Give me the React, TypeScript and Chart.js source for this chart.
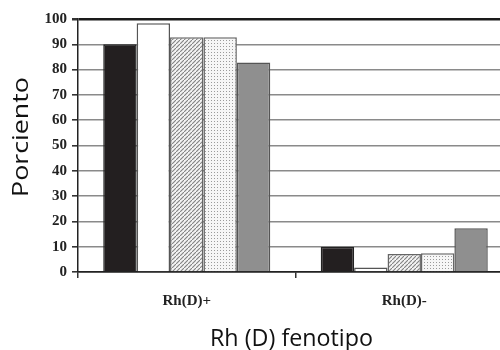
import React, { useEffect, useRef } from "react";
import { Chart, registerables } from "chart.js";

Chart.register(...registerables);

const categories = ["Rh(D)+", "Rh(D)-"];
const serie1 = [90, 10];
const serie2 = [98.3, 1.8];
const serie3 = [92.8, 7.1];
const serie4 = [92.8, 7.4];
const serie5 = [82.8, 17.3];
const seriesNames = ["Serie 1", "Serie 2", "Serie 3", "Serie 4", "Serie 5"];
const yTitle = "Porciento";
const xTitle = "Rh (D) fenotipo";

function makeHatch(): CanvasPattern | string {
  const c = document.createElement("canvas");
  c.width = 4;
  c.height = 4;
  const ctx = c.getContext("2d");
  if (!ctx) return "#ccc";
  ctx.fillStyle = "#f4f4f4";
  ctx.fillRect(0, 0, 4, 4);
  ctx.strokeStyle = "#808080";
  ctx.lineWidth = 1.1;
  ctx.beginPath();
  ctx.moveTo(-1, 5);
  ctx.lineTo(5, -1);
  ctx.stroke();
  const p = ctx.createPattern(c, "repeat");
  return p || "#ccc";
}

function makeDots(): CanvasPattern | string {
  const c = document.createElement("canvas");
  c.width = 3;
  c.height = 3;
  const ctx = c.getContext("2d");
  if (!ctx) return "#ddd";
  ctx.fillStyle = "#f6f6f6";
  ctx.fillRect(0, 0, 3, 3);
  ctx.fillStyle = "#9a9a9a";
  ctx.fillRect(1, 1, 1, 1);
  const p = ctx.createPattern(c, "repeat");
  return p || "#ddd";
}

function drawStretched(ctx: CanvasRenderingContext2D, text: string, targetWidth: number) {
  const w = ctx.measureText(text).width;
  const s = targetWidth / w;
  ctx.save();
  ctx.scale(s, 1);
  ctx.fillText(text, 0, 0);
  ctx.restore();
}

const titlePlugin = {
  id: "axisTitles",
  afterDraw(chart: any) {
    const ctx: CanvasRenderingContext2D = chart.ctx;
    ctx.save();
    ctx.fillStyle = "#111";
    ctx.textAlign = "center";
    ctx.textBaseline = "alphabetic";
    // y title
    ctx.font = "21px 'Open Sans', sans-serif";
    ctx.save();
    ctx.translate(28, 137);
    ctx.rotate(-Math.PI / 2);
    drawStretched(ctx, yTitle, 120);
    ctx.restore();
    // x title
    ctx.font = "24px 'Open Sans', sans-serif";
    ctx.save();
    ctx.translate(291.5, 346);
    drawStretched(ctx, xTitle, 163);
    ctx.restore();
    ctx.restore();
  },
};

export default function App() {
  const ref = useRef<HTMLCanvasElement | null>(null);
  useEffect(() => {
    if (!ref.current) return;
    const hatch = makeHatch();
    const dots = makeDots();
    const fills: any[] = ["#231f20", "#ffffff", hatch, dots, "#8f8f8f"];
    const borders = ["#222", "#555", "#666", "#666", "#555"];
    const values = [serie1, serie2, serie3, serie4, serie5];
    const chart = new Chart(ref.current, {
      type: "bar",
      data: {
        labels: categories,
        datasets: values.map((v, i) => ({
          label: seriesNames[i],
          data: v,
          backgroundColor: fills[i],
          borderColor: borders[i],
          borderWidth: 1.5,
          categoryPercentage: 0.768,
          barPercentage: 1,
        })),
      },
      options: {
        responsive: false,
        animation: false,
        devicePixelRatio: 1,
        layout: { padding: { top: 19, left: 0, right: 2, bottom: 0 } },
        plugins: { legend: { display: false }, tooltip: { enabled: false } },
        scales: {
          x: {
            afterFit: (s: any) => {
              s.height = 78;
            },
            grid: {
              drawOnChartArea: false,
              drawTicks: true,
              tickLength: 6,
              offset: true,
              color: "#333",
              lineWidth: 1.5,
            },
            border: { color: "#222", width: 1.5 },
            ticks: {
              color: "#222",
              padding: 14,
              font: { family: "'Liberation Serif', serif", weight: "bold", size: 15 },
            },
          },
          y: {
            min: 0,
            max: 100,
            afterFit: (s: any) => {
              s.width = 78;
            },
            ticks: {
              stepSize: 10,
              color: "#222",
              padding: 5,
              font: { family: "'Liberation Serif', serif", weight: "bold", size: 15 },
            },
            grid: {
              tickLength: 6,
              color: (c: any) => (c.tick && (c.tick.value === 100 || c.tick.value === 0) ? "#1a1a1a" : "#8a8a8a"),
              lineWidth: (c: any) => (c.tick && c.tick.value === 100 ? 2.5 : 1.6),
              tickColor: "#333",
            },
            border: { color: "#222", width: 1.5 },
          },
        },
      },
      plugins: [titlePlugin],
    });
    return () => chart.destroy();
  }, []);
  return (
    <div
      style={{
        position: "fixed",
        left: 0,
        top: 0,
        width: 500,
        height: 350,
        overflow: "hidden",
        background: "#fff",
      }}
    >
      <canvas ref={ref} width={515} height={350} style={{ display: "block" }} />
    </div>
  );
}
